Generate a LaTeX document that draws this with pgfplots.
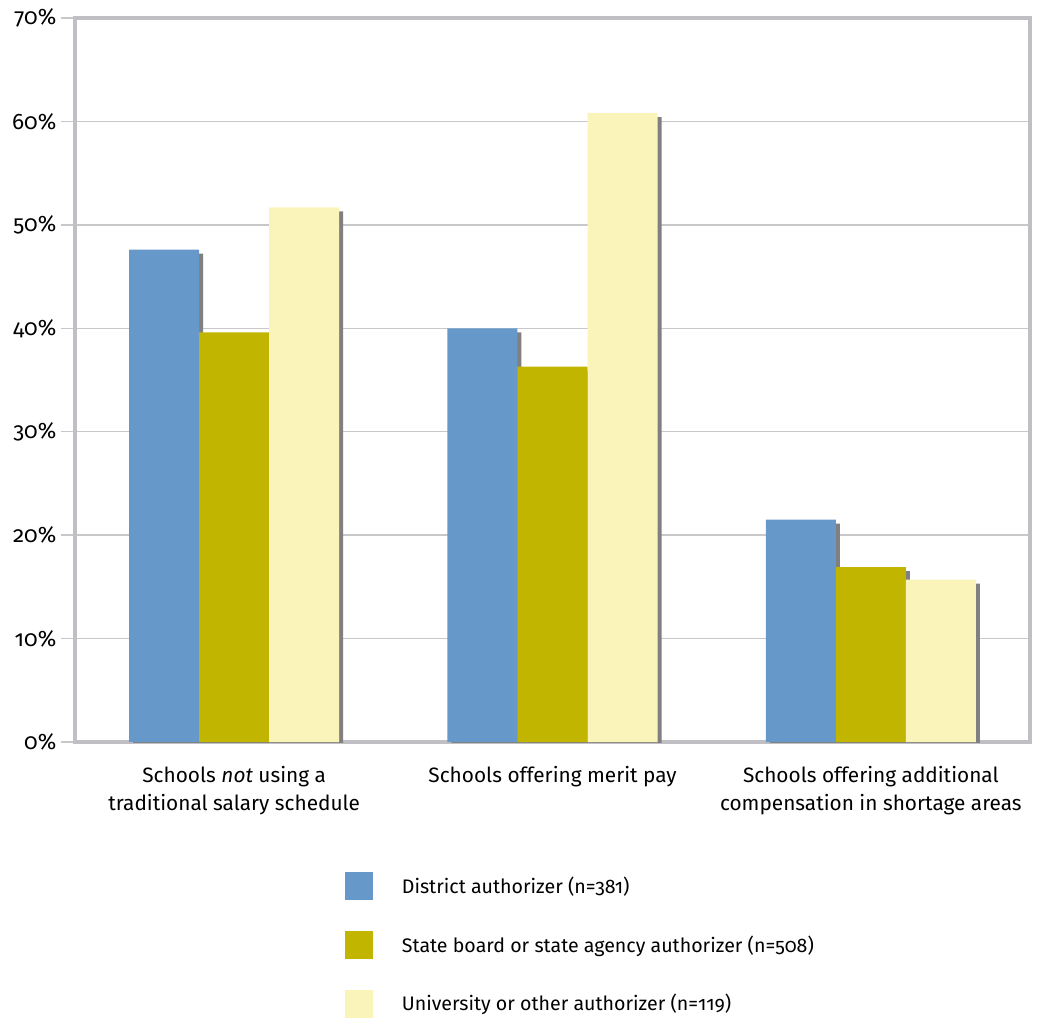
\documentclass[border=0pt]{standalone}
\usepackage{pgfplots}
\pgfplotsset{compat=1.18}
\usepackage{fontspec}
\setmainfont{Fira Sans}[Numbers=OldStyle]
\definecolor{cblue}{HTML}{6699C9}
\definecolor{colive}{HTML}{C2B500}
\definecolor{cyellow}{HTML}{FAF4BA}
\definecolor{shadowc}{HTML}{808080}
\definecolor{gridc}{HTML}{C8C8CA}
\definecolor{framec}{HTML}{C0C0C4}
\pgfplotstableread{
x v
0 47.6
1 40.0
2 21.5
}\district
\pgfplotstableread{
x v
0 39.6
1 36.3
2 16.9
}\state
\pgfplotstableread{
x v
0 51.7
1 60.8
2 15.7
}\univ
\pgfplotsset{sq legend/.style={legend image code/.code={\fill[##1,draw=none] (0pt,-10.5pt) rectangle (21pt,10.5pt);}}}
\begin{document}
\begin{tikzpicture}
\begin{axis}[name=ax, scale only axis, width=716.25pt, height=543pt,
  font=\fontsize{15.6}{21}\selectfont,
  ybar, bar width=0.22,
  xmin=-0.5, xmax=2.5, ymin=0, ymax=70,
  ytick={0,10,...,70},
  yticklabel={\pgfmathprintnumber{\tick}\%},
  yticklabel style={font=\fontsize{16.8}{20}\selectfont},
  /pgf/number format/assume math mode=true,
  ymajorgrids, grid style={draw=gridc, line width=1pt},
  axis line style={draw=framec, line width=3pt},
  xtick={0,1,2},
  xticklabels={Schools \textit{not} using a\\traditional salary schedule, Schools offering merit pay, Schools offering additional\\compensation in shortage areas},
  xticklabel style={align=center, yshift=-4pt},
  x tick style={draw=none},
  extra x ticks={-0.5,0.5,1.5,2.5}, extra x tick labels={},
  extra x tick style={grid=none, major tick length=10.5pt, tick align=outside, tick style={draw=gridc, line width=1pt}},
  y tick style={draw=gridc, line width=1pt},
  tick align=outside, major tick length=10.5pt,
  xtick pos=bottom, ytick pos=left,
  legend style={draw=none, fill=none, at={(0.2827,-0.1796)}, anchor=north west, inner sep=0pt, row sep=23pt, font=\fontsize{14.7}{21}\selectfont, /tikz/every odd column/.append style={column sep=19.5pt}},
  legend cell align=left,
]
\addplot[fill=shadowc, draw=none, bar shift=-0.22, forget plot, xshift=3pt, yshift=-3pt] table[x=x,y=v] {\district};
\addplot[fill=shadowc, draw=none, bar shift=0, forget plot, xshift=3pt, yshift=-3pt] table[x=x,y=v] {\state};
\addplot[fill=shadowc, draw=none, bar shift=0.22, forget plot, xshift=3pt, yshift=-3pt] table[x=x,y=v] {\univ};
\addplot[fill=cblue, draw=none, bar shift=-0.22, sq legend] table[x=x,y=v] {\district};
\addplot[fill=colive, draw=none, bar shift=0, sq legend] table[x=x,y=v] {\state};
\addplot[fill=cyellow, draw=none, bar shift=0.22, sq legend] table[x=x,y=v] {\univ};
\legend{District authorizer (n=381), State board or state agency authorizer (n=508), University or other authorizer (n=119)}
\end{axis}
\pgfresetboundingbox
\path[use as bounding box] ([xshift=-56.25pt,yshift=-206.25pt]ax.south west) rectangle ++(778.5pt,762.75pt);
\end{tikzpicture}
\end{document}
